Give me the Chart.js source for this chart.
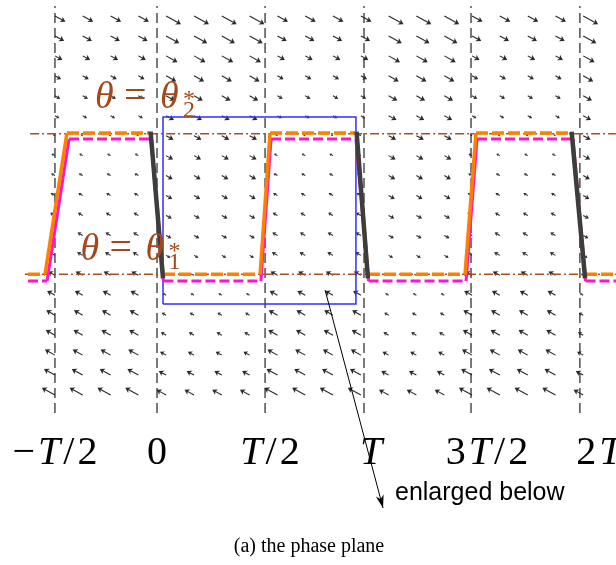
<!DOCTYPE html>
<html>
<head>
<meta charset="utf-8">
<script src="https://cdn.jsdelivr.net/npm/chart.js@4.4.0/dist/chart.umd.min.js"></script>
<style>
  html, body { margin: 0; padding: 0; background: #fff; }
  #wrap { width: 616px; height: 565px; }
</style>
</head>
<body>
<div id="wrap"><canvas id="phase" width="616" height="565"></canvas></div>
<script>
// === Daten: Achsen (t in Einheiten von T) ===
const tickLabels = ['−T/2', '0', 'T/2', 'T', '3T/2', '2T'];
const tickLineT = [-0.493, 0, 0.522, 1.0, 1.517, 2.043];
const tickLabelT = [-0.493, 0, 0.546, 1.034, 1.594, 2.135];

// === Gleichgewichte ===
const theta1 = 0.605;
const theta2 = 1.31;

// === Trajektorien ===
const orangeT     = [-0.623, -0.541, -0.435, -0.031, 0.029, 0.498, 0.546, 0.964, 1.019, 1.488, 1.541, 2.003, 2.068, 2.217];
const orangeTheta = [0.605, 0.605, 1.313, 1.313, 0.605, 0.605, 1.313, 1.313, 0.605, 0.605, 1.313, 1.313, 0.605, 0.605];
const magentaT     = [-0.623, -0.531, -0.425, -0.029, 0.031, 0.502, 0.551, 0.961, 1.022, 1.493, 1.546, 2.010, 2.070, 2.217];
const magentaTheta = [0.571, 0.571, 1.283, 1.283, 0.571, 0.571, 1.283, 1.283, 0.571, 0.571, 1.283, 1.283, 0.571, 0.571];
const grayT     = [-0.031, 0.029, null, 0.964, 1.019, null, 2.003, 2.068];
const grayTheta = [1.32, 0.585, null, 1.32, 0.585, null, 1.32, 0.585];

// === Vergrösserungsrahmen + Pfeil ===
const boxT = [0.029, 0.961];
const boxTheta = [0.456, 1.393];
const pointerT = [0.812, 1.092];
const pointerTheta = [0.526, -0.566];

// === Richtungsfeld ===
const fieldT = [-0.493, -0.359, -0.224, -0.090, 0.044, 0.179, 0.313, 0.447, 0.582, 0.716, 0.850, 0.985, 1.119, 1.253, 1.388, 1.522, 1.656, 1.791, 1.925, 2.059];
const fieldTheta = [1.9, 1.8, 1.7, 1.6, 1.5, 1.4, 1.3, 1.2, 1.1, 1.0, 0.9, 0.8, 0.7, 0.6, 0.5, 0.4, 0.3, 0.2, 0.1, 0.0];
const fieldAttractor = [2, 2, 2, 2, 1, 1, 1, 1, 2, 2, 2, 2, 1, 1, 1, 2, 2, 2, 2, 1];
// Pfeillängen (px) pro Zeile, von oben nach unten
const lenToTheta2 = [12, 10.5, 8.5, 7, 6, 5, 2.5, 4, 4.5, 5, 5.5, 6, 6.5, 8, 9, 10, 10.5, 11.5, 12.5, 15];
const lenToTheta1 = [17, 15, 13, 11.5, 10, 9, 8.5, 8, 7.5, 7, 6.5, 6, 5, 2.5, 4, 5, 6, 7, 8.5, 11];

const pts = (xs, ys) => xs.map((v, i) => ({ x: v, y: ys[i] }));

function vLines() {
    const out = [];
    tickLineT.forEach(t => {
        out.push({ x: t, y: -0.09 }, { x: t, y: 1.95 }, { x: t, y: null });
    });
    return out;
}

function drawArrow(ctx, x0, y0, len, sign) {
    const a = 29 * Math.PI / 180;
    const ux = sign * Math.cos(a), uy = sign * Math.sin(a);
    const x1 = x0 + ux * len, y1 = y0 + uy * len;
    const h = Math.min(5, len * 0.6), w = h * 0.62;
    ctx.beginPath();
    ctx.moveTo(x0, y0);
    ctx.lineTo(x1 - ux * h * 0.7, y1 - uy * h * 0.7);
    ctx.stroke();
    ctx.beginPath();
    ctx.moveTo(x1, y1);
    ctx.lineTo(x1 - ux * h - uy * w, y1 - uy * h + ux * w);
    ctx.lineTo(x1 - ux * h * 0.75, y1 - uy * h * 0.75);
    ctx.lineTo(x1 - ux * h + uy * w, y1 - uy * h - ux * w);
    ctx.closePath();
    ctx.fill();
}

// Text mit kursivem T (LaTeX-Stil)
function drawMathLabel(ctx, label, cx, base, size, gap) {
    const roman = size + 'px "Liberation Serif"';
    const ital = 'italic ' + size + 'px "Liberation Serif"';
    const parts = label.split('').map(ch => [ch, ch === 'T' ? ital : roman]);
    let w = 0;
    parts.forEach(p => { ctx.font = p[1]; w += ctx.measureText(p[0]).width + gap; });
    w -= gap;
    let x = cx - w / 2;
    parts.forEach(p => {
        ctx.font = p[1];
        ctx.fillText(p[0], x, base);
        x += ctx.measureText(p[0]).width + gap;
    });
}

function drawThetaLabel(ctx, x, base, sub) {
    ctx.fillStyle = '#a3481c';
    ctx.font = 'italic 38px "Liberation Serif"';
    ctx.fillText('θ', x, base);
    ctx.font = '40px "Liberation Serif"';
    ctx.fillText('=', x + 29, base);
    ctx.font = 'italic 38px "Liberation Serif"';
    ctx.fillText('θ', x + 65, base);
    ctx.font = '24px "Liberation Serif"';
    ctx.fillText('*', x + 88, base - 2);
    ctx.fillText(sub, x + 88, base + 9);
}

const phasePlugin = {
    id: 'phase',
    beforeDatasetsDraw(chart) {
        const { ctx, scales: { x, y } } = chart;
        ctx.save();
        ctx.strokeStyle = '#2a2a2a';
        ctx.fillStyle = '#2a2a2a';
        ctx.lineWidth = 1.1;
        fieldT.forEach((t, c) => {
            const target = fieldAttractor[c] === 2 ? theta2 : theta1;
            const lens = fieldAttractor[c] === 2 ? lenToTheta2 : lenToTheta1;
            fieldTheta.forEach((th, r) => {
                const sign = th > target ? 1 : -1;
                drawArrow(ctx, x.getPixelForValue(t), y.getPixelForValue(th), lens[r], sign);
            });
        });
        ctx.restore();
    },
    afterDatasetsDraw(chart) {
        const { ctx, scales: { x, y } } = chart;
        ctx.save();
        ctx.textBaseline = 'alphabetic';
        drawThetaLabel(ctx, x.getPixelForValue(-0.3), y.getPixelForValue(1.44), '2');
        drawThetaLabel(ctx, x.getPixelForValue(-0.37), y.getPixelForValue(0.677), '1');

        // Pfeilspitze am Zeiger
        const x0 = x.getPixelForValue(pointerT[0]), y0 = y.getPixelForValue(pointerTheta[0]);
        const x1 = x.getPixelForValue(pointerT[1]), y1 = y.getPixelForValue(pointerTheta[1]);
        const d = Math.hypot(x1 - x0, y1 - y0), ux = (x1 - x0) / d, uy = (y1 - y0) / d;
        ctx.fillStyle = '#000';
        ctx.beginPath();
        ctx.moveTo(x1, y1);
        ctx.lineTo(x1 - ux * 13 - uy * 4, y1 - uy * 13 + ux * 4);
        ctx.lineTo(x1 - ux * 9, y1 - uy * 9);
        ctx.lineTo(x1 - ux * 13 + uy * 4, y1 - uy * 13 - ux * 4);
        ctx.closePath();
        ctx.fill();

        // Tick-Beschriftungen
        ctx.fillStyle = '#000';
        tickLabels.forEach((lab, i) => {
            drawMathLabel(ctx, lab, x.getPixelForValue(tickLabelT[i]), 464, 40, 3);
        });
        ctx.font = '25px "Liberation Sans"';
        ctx.fillText('enlarged below', 395, 500);
        ctx.font = '20px "Liberation Serif"';
        ctx.textAlign = 'center';
        ctx.fillText('(a) the phase plane', 309, 552);
        ctx.restore();
    }
};

// === Chart ===
const chart = new Chart(document.getElementById('phase'), {
    type: 'line',
    data: {
        datasets: [
            { data: pts(pointerT, pointerTheta), borderColor: '#000', borderWidth: 1, order: 0 },
            { data: pts(grayT, grayTheta), borderColor: '#3d3d3d', borderWidth: 4.5, order: 1 },
            {
                data: pts(orangeT, orangeTheta), borderColor: '#ff8000', borderWidth: 3.5, order: 2,
                segment: { borderDash: c => (Math.abs(c.p0.parsed.y - c.p1.parsed.y) < 1e-6 ? [12, 4] : []) }
            },
            {
                data: pts(magentaT, magentaTheta), borderColor: '#ff14c8', borderWidth: 3, order: 3,
                segment: { borderDash: c => (Math.abs(c.p0.parsed.y - c.p1.parsed.y) < 1e-6 ? [10, 4] : []) }
            },
            {
                data: pts([boxT[0], boxT[0], boxT[1], boxT[1], boxT[0]], [boxTheta[0], boxTheta[1], boxTheta[1], boxTheta[0], boxTheta[0]]),
                borderColor: '#2f2fff', borderWidth: 1.5, order: 4
            },
            {
                data: [{ x: -0.613, y: theta2 }, { x: 2.217, y: theta2 }, { x: 0, y: null }, { x: -0.638, y: theta1 }, { x: 2.217, y: theta1 }],
                borderColor: '#a84f20', borderWidth: 1.5, borderDash: [9, 3, 2, 3], order: 5
            },
            { data: vLines(), borderColor: '#222', borderWidth: 1.2, borderDash: [10, 5], order: 6 }
        ]
    },
    options: {
        responsive: false,
        animation: false,
        devicePixelRatio: 1,
        layout: { padding: 0 },
        spanGaps: false,
        plugins: { legend: { display: false }, tooltip: { enabled: false } },
        elements: { point: { radius: 0 }, line: { tension: 0, fill: false } },
        scales: {
            x: { type: 'linear', min: -0.7585, max: 2.2174, display: false },
            y: { type: 'linear', min: -0.852, max: 1.98, display: false }
        }
    },
    plugins: [phasePlugin]
});
</script>
</body>
</html>
